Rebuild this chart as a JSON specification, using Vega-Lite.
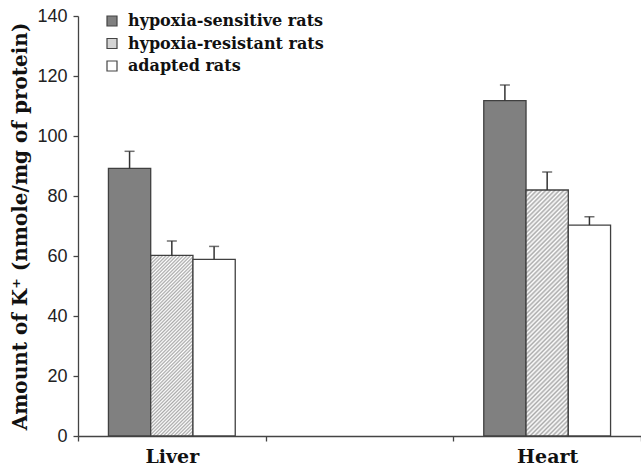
{
  "$schema": "https://vega.github.io/schema/vega-lite/v6.json",
  "autosize": "none",
  "padding": {"left": 78, "top": 16, "right": 0, "bottom": 31},
  "width": 563,
  "height": 420,
  "background": "white",
  "config": {"view": {"stroke": null}},
  "data": {"values": [
    {"organ": "Liver", "group": "hypoxia-sensitive rats", "value": 89.2, "upper": 94.9},
    {"organ": "Liver", "group": "hypoxia-resistant rats", "value": 60.2, "upper": 65.0},
    {"organ": "Liver", "group": "adapted rats", "value": 58.9, "upper": 63.2},
    {"organ": "Heart", "group": "hypoxia-sensitive rats", "value": 111.8, "upper": 117.0},
    {"organ": "Heart", "group": "hypoxia-resistant rats", "value": 82.0, "upper": 88.0},
    {"organ": "Heart", "group": "adapted rats", "value": 70.3, "upper": 73.1}
  ]},
  "encoding": {
    "x": {"field": "organ", "type": "nominal",
      "scale": {"domain": ["Liver", "gap", "Heart"], "paddingInner": 0, "paddingOuter": 0},
      "axis": {"title": null, "labelAngle": 0, "labelExpr": "datum.label === 'gap' ? '' : datum.label",
        "tickBand": "extent", "domainColor": "#444", "domainWidth": 1.3, "tickColor": "#444", "tickWidth": 1.3, "tickSize": 5,
        "labelFont": "DejaVu Serif", "labelFontWeight": "bold", "labelFontSize": 19, "labelColor": "#111", "labelPadding": 6}},
    "xOffset": {"field": "group", "type": "nominal",
      "scale": {"domain": ["hypoxia-sensitive rats", "hypoxia-resistant rats", "adapted rats"], "paddingInner": 0, "paddingOuter": 0.72}}
  },
  "layer": [
    {
      "mark": {"type": "bar", "stroke": "#404040", "strokeWidth": 1.3},
      "encoding": {
        "y": {"field": "value", "type": "quantitative",
          "scale": {"domain": [0, 140], "nice": false, "zero": true},
          "axis": {"values": [0, 20, 40, 60, 80, 100, 120, 140], "grid": false,
            "title": "Amount of K⁺ (nmole/mg of protein)",
            "titleFont": "DejaVu Serif", "titleFontWeight": "bold", "titleFontSize": 20, "titleColor": "#111",
            "titleX": -58, "titleY": 210, "titleAngle": -90, "titleAlign": "center", "titleBaseline": "middle",
            "domainColor": "#444", "domainWidth": 1.3, "tickColor": "#444", "tickWidth": 1.3, "tickSize": 5,
            "labelFont": "Liberation Sans", "labelFontSize": 18, "labelColor": "#222", "labelPadding": 6}},
        "fill": {
          "field": "group", "type": "nominal",
          "scale": {"domain": ["hypoxia-sensitive rats", "hypoxia-resistant rats", "adapted rats"], "range": ["#808080", "#d4d4d4", "#ffffff"]},
          "legend": {"title": null, "orient": "none", "legendX": 26, "legendY": -3, "symbolType": "square", "symbolSize": 100,
            "symbolStrokeColor": "#444", "symbolStrokeWidth": 1.2, "labelFont": "DejaVu Serif", "labelFontWeight": "bold",
            "labelFontSize": 16, "labelColor": "#111", "labelOffset": 8, "labelLimit": 0, "rowPadding": 6.5, "padding": 0},
          "condition": [
            {"test": "datum.organ === 'Liver' && datum.group === 'hypoxia-resistant rats'",
             "value": {"gradient": "linear", "x1": 0, "y1": 0, "x2": 0.273, "y2": 1.17, "stops": [
{"offset":0,"color":"#fff"},{"offset":0.0078,"color":"#aaa"},{"offset":0.0156,"color":"#fff"},{"offset":0.0234,"color":"#aaa"},{"offset":0.0313,"color":"#fff"},{"offset":0.0391,"color":"#aaa"},{"offset":0.0469,"color":"#fff"},{"offset":0.0547,"color":"#aaa"},{"offset":0.0625,"color":"#fff"},{"offset":0.0703,"color":"#aaa"},{"offset":0.0781,"color":"#fff"},{"offset":0.0859,"color":"#aaa"},{"offset":0.0938,"color":"#fff"},{"offset":0.1016,"color":"#aaa"},{"offset":0.1094,"color":"#fff"},{"offset":0.1172,"color":"#aaa"},{"offset":0.125,"color":"#fff"},{"offset":0.1328,"color":"#aaa"},{"offset":0.1406,"color":"#fff"},{"offset":0.1484,"color":"#aaa"},{"offset":0.1563,"color":"#fff"},{"offset":0.1641,"color":"#aaa"},{"offset":0.1719,"color":"#fff"},{"offset":0.1797,"color":"#aaa"},{"offset":0.1875,"color":"#fff"},{"offset":0.1953,"color":"#aaa"},{"offset":0.2031,"color":"#fff"},{"offset":0.2109,"color":"#aaa"},{"offset":0.2188,"color":"#fff"},{"offset":0.2266,"color":"#aaa"},{"offset":0.2344,"color":"#fff"},{"offset":0.2422,"color":"#aaa"},{"offset":0.25,"color":"#fff"},{"offset":0.2578,"color":"#aaa"},{"offset":0.2656,"color":"#fff"},{"offset":0.2734,"color":"#aaa"},{"offset":0.2813,"color":"#fff"},{"offset":0.2891,"color":"#aaa"},{"offset":0.2969,"color":"#fff"},{"offset":0.3047,"color":"#aaa"},{"offset":0.3125,"color":"#fff"},{"offset":0.3203,"color":"#aaa"},{"offset":0.3281,"color":"#fff"},{"offset":0.3359,"color":"#aaa"},{"offset":0.3438,"color":"#fff"},{"offset":0.3516,"color":"#aaa"},{"offset":0.3594,"color":"#fff"},{"offset":0.3672,"color":"#aaa"},{"offset":0.375,"color":"#fff"},{"offset":0.3828,"color":"#aaa"},{"offset":0.3906,"color":"#fff"},{"offset":0.3984,"color":"#aaa"},{"offset":0.4063,"color":"#fff"},{"offset":0.4141,"color":"#aaa"},{"offset":0.4219,"color":"#fff"},{"offset":0.4297,"color":"#aaa"},{"offset":0.4375,"color":"#fff"},{"offset":0.4453,"color":"#aaa"},{"offset":0.4531,"color":"#fff"},{"offset":0.4609,"color":"#aaa"},{"offset":0.4688,"color":"#fff"},{"offset":0.4766,"color":"#aaa"},{"offset":0.4844,"color":"#fff"},{"offset":0.4922,"color":"#aaa"},{"offset":0.5,"color":"#fff"},{"offset":0.5078,"color":"#aaa"},{"offset":0.5156,"color":"#fff"},{"offset":0.5234,"color":"#aaa"},{"offset":0.5313,"color":"#fff"},{"offset":0.5391,"color":"#aaa"},{"offset":0.5469,"color":"#fff"},{"offset":0.5547,"color":"#aaa"},{"offset":0.5625,"color":"#fff"},{"offset":0.5703,"color":"#aaa"},{"offset":0.5781,"color":"#fff"},{"offset":0.5859,"color":"#aaa"},{"offset":0.5938,"color":"#fff"},{"offset":0.6016,"color":"#aaa"},{"offset":0.6094,"color":"#fff"},{"offset":0.6172,"color":"#aaa"},{"offset":0.625,"color":"#fff"},{"offset":0.6328,"color":"#aaa"},{"offset":0.6406,"color":"#fff"},{"offset":0.6484,"color":"#aaa"},{"offset":0.6563,"color":"#fff"},{"offset":0.6641,"color":"#aaa"},{"offset":0.6719,"color":"#fff"},{"offset":0.6797,"color":"#aaa"},{"offset":0.6875,"color":"#fff"},{"offset":0.6953,"color":"#aaa"},{"offset":0.7031,"color":"#fff"},{"offset":0.7109,"color":"#aaa"},{"offset":0.7188,"color":"#fff"},{"offset":0.7266,"color":"#aaa"},{"offset":0.7344,"color":"#fff"},{"offset":0.7422,"color":"#aaa"},{"offset":0.75,"color":"#fff"},{"offset":0.7578,"color":"#aaa"},{"offset":0.7656,"color":"#fff"},{"offset":0.7734,"color":"#aaa"},{"offset":0.7813,"color":"#fff"},{"offset":0.7891,"color":"#aaa"},{"offset":0.7969,"color":"#fff"},{"offset":0.8047,"color":"#aaa"},{"offset":0.8125,"color":"#fff"},{"offset":0.8203,"color":"#aaa"},{"offset":0.8281,"color":"#fff"},{"offset":0.8359,"color":"#aaa"},{"offset":0.8438,"color":"#fff"},{"offset":0.8516,"color":"#aaa"},{"offset":0.8594,"color":"#fff"},{"offset":0.8672,"color":"#aaa"},{"offset":0.875,"color":"#fff"},{"offset":0.8828,"color":"#aaa"},{"offset":0.8906,"color":"#fff"},{"offset":0.8984,"color":"#aaa"},{"offset":0.9063,"color":"#fff"},{"offset":0.9141,"color":"#aaa"},{"offset":0.9219,"color":"#fff"},{"offset":0.9297,"color":"#aaa"},{"offset":0.9375,"color":"#fff"},{"offset":0.9453,"color":"#aaa"},{"offset":0.9531,"color":"#fff"},{"offset":0.9609,"color":"#aaa"},{"offset":0.9688,"color":"#fff"},{"offset":0.9766,"color":"#aaa"},{"offset":0.9844,"color":"#fff"},{"offset":0.9922,"color":"#aaa"},{"offset":1,"color":"#fff"}]}},
            {"test": "datum.organ === 'Heart' && datum.group === 'hypoxia-resistant rats'",
             "value": {"gradient": "linear", "x1": 0, "y1": 0, "x2": 0.196, "y2": 1.138, "stops": [
{"offset":0,"color":"#fff"},{"offset":0.0078,"color":"#aaa"},{"offset":0.0156,"color":"#fff"},{"offset":0.0234,"color":"#aaa"},{"offset":0.0313,"color":"#fff"},{"offset":0.0391,"color":"#aaa"},{"offset":0.0469,"color":"#fff"},{"offset":0.0547,"color":"#aaa"},{"offset":0.0625,"color":"#fff"},{"offset":0.0703,"color":"#aaa"},{"offset":0.0781,"color":"#fff"},{"offset":0.0859,"color":"#aaa"},{"offset":0.0938,"color":"#fff"},{"offset":0.1016,"color":"#aaa"},{"offset":0.1094,"color":"#fff"},{"offset":0.1172,"color":"#aaa"},{"offset":0.125,"color":"#fff"},{"offset":0.1328,"color":"#aaa"},{"offset":0.1406,"color":"#fff"},{"offset":0.1484,"color":"#aaa"},{"offset":0.1563,"color":"#fff"},{"offset":0.1641,"color":"#aaa"},{"offset":0.1719,"color":"#fff"},{"offset":0.1797,"color":"#aaa"},{"offset":0.1875,"color":"#fff"},{"offset":0.1953,"color":"#aaa"},{"offset":0.2031,"color":"#fff"},{"offset":0.2109,"color":"#aaa"},{"offset":0.2188,"color":"#fff"},{"offset":0.2266,"color":"#aaa"},{"offset":0.2344,"color":"#fff"},{"offset":0.2422,"color":"#aaa"},{"offset":0.25,"color":"#fff"},{"offset":0.2578,"color":"#aaa"},{"offset":0.2656,"color":"#fff"},{"offset":0.2734,"color":"#aaa"},{"offset":0.2813,"color":"#fff"},{"offset":0.2891,"color":"#aaa"},{"offset":0.2969,"color":"#fff"},{"offset":0.3047,"color":"#aaa"},{"offset":0.3125,"color":"#fff"},{"offset":0.3203,"color":"#aaa"},{"offset":0.3281,"color":"#fff"},{"offset":0.3359,"color":"#aaa"},{"offset":0.3438,"color":"#fff"},{"offset":0.3516,"color":"#aaa"},{"offset":0.3594,"color":"#fff"},{"offset":0.3672,"color":"#aaa"},{"offset":0.375,"color":"#fff"},{"offset":0.3828,"color":"#aaa"},{"offset":0.3906,"color":"#fff"},{"offset":0.3984,"color":"#aaa"},{"offset":0.4063,"color":"#fff"},{"offset":0.4141,"color":"#aaa"},{"offset":0.4219,"color":"#fff"},{"offset":0.4297,"color":"#aaa"},{"offset":0.4375,"color":"#fff"},{"offset":0.4453,"color":"#aaa"},{"offset":0.4531,"color":"#fff"},{"offset":0.4609,"color":"#aaa"},{"offset":0.4688,"color":"#fff"},{"offset":0.4766,"color":"#aaa"},{"offset":0.4844,"color":"#fff"},{"offset":0.4922,"color":"#aaa"},{"offset":0.5,"color":"#fff"},{"offset":0.5078,"color":"#aaa"},{"offset":0.5156,"color":"#fff"},{"offset":0.5234,"color":"#aaa"},{"offset":0.5313,"color":"#fff"},{"offset":0.5391,"color":"#aaa"},{"offset":0.5469,"color":"#fff"},{"offset":0.5547,"color":"#aaa"},{"offset":0.5625,"color":"#fff"},{"offset":0.5703,"color":"#aaa"},{"offset":0.5781,"color":"#fff"},{"offset":0.5859,"color":"#aaa"},{"offset":0.5938,"color":"#fff"},{"offset":0.6016,"color":"#aaa"},{"offset":0.6094,"color":"#fff"},{"offset":0.6172,"color":"#aaa"},{"offset":0.625,"color":"#fff"},{"offset":0.6328,"color":"#aaa"},{"offset":0.6406,"color":"#fff"},{"offset":0.6484,"color":"#aaa"},{"offset":0.6563,"color":"#fff"},{"offset":0.6641,"color":"#aaa"},{"offset":0.6719,"color":"#fff"},{"offset":0.6797,"color":"#aaa"},{"offset":0.6875,"color":"#fff"},{"offset":0.6953,"color":"#aaa"},{"offset":0.7031,"color":"#fff"},{"offset":0.7109,"color":"#aaa"},{"offset":0.7188,"color":"#fff"},{"offset":0.7266,"color":"#aaa"},{"offset":0.7344,"color":"#fff"},{"offset":0.7422,"color":"#aaa"},{"offset":0.75,"color":"#fff"},{"offset":0.7578,"color":"#aaa"},{"offset":0.7656,"color":"#fff"},{"offset":0.7734,"color":"#aaa"},{"offset":0.7813,"color":"#fff"},{"offset":0.7891,"color":"#aaa"},{"offset":0.7969,"color":"#fff"},{"offset":0.8047,"color":"#aaa"},{"offset":0.8125,"color":"#fff"},{"offset":0.8203,"color":"#aaa"},{"offset":0.8281,"color":"#fff"},{"offset":0.8359,"color":"#aaa"},{"offset":0.8438,"color":"#fff"},{"offset":0.8516,"color":"#aaa"},{"offset":0.8594,"color":"#fff"},{"offset":0.8672,"color":"#aaa"},{"offset":0.875,"color":"#fff"},{"offset":0.8828,"color":"#aaa"},{"offset":0.8906,"color":"#fff"},{"offset":0.8984,"color":"#aaa"},{"offset":0.9063,"color":"#fff"},{"offset":0.9141,"color":"#aaa"},{"offset":0.9219,"color":"#fff"},{"offset":0.9297,"color":"#aaa"},{"offset":0.9375,"color":"#fff"},{"offset":0.9453,"color":"#aaa"},{"offset":0.9531,"color":"#fff"},{"offset":0.9609,"color":"#aaa"},{"offset":0.9688,"color":"#fff"},{"offset":0.9766,"color":"#aaa"},{"offset":0.9844,"color":"#fff"},{"offset":0.9922,"color":"#aaa"},{"offset":1,"color":"#fff"}]}}
          ]
        }
      }
    },
    {
      "mark": {"type": "rule", "color": "#333", "strokeWidth": 1.5},
      "encoding": {
        "y": {"field": "value", "type": "quantitative"},
        "y2": {"field": "upper"}
      }
    },
    {
      "mark": {"type": "tick", "color": "#333", "thickness": 1.5, "size": 10},
      "encoding": {
        "y": {"field": "upper", "type": "quantitative"}
      }
    }
  ]
}
